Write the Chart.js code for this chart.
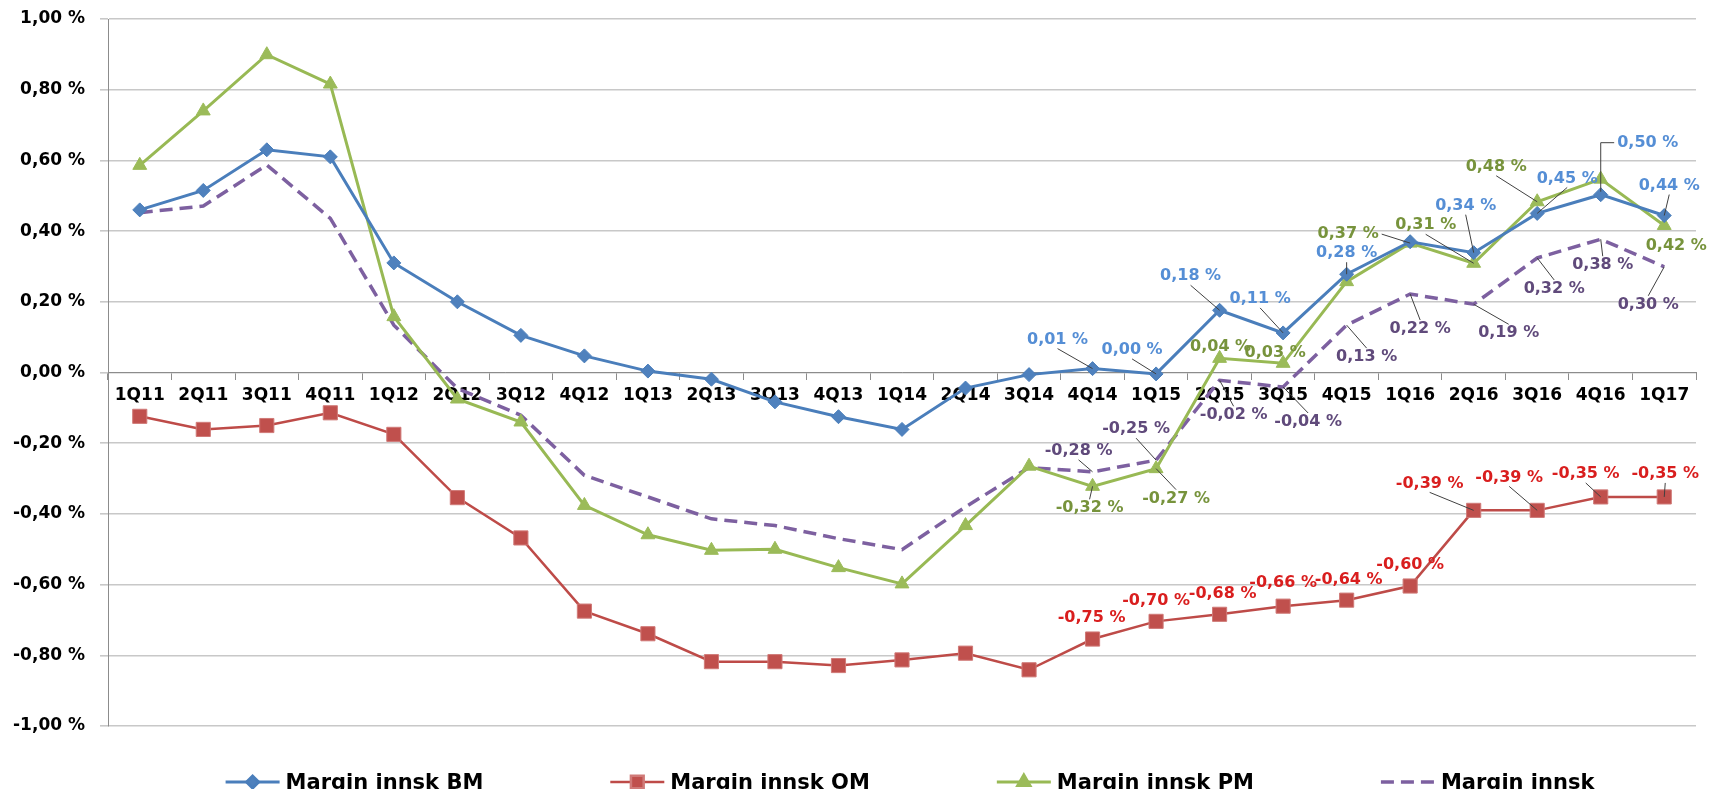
<!DOCTYPE html>
<html>
  <head>
    <meta charset="UTF-8">
    <style>
      html, body { margin: 0; padding: 0; background: #fff; }
      #wrap { width: 1709px; height: 789px; position: relative; }
    </style>
  </head>
  <body>
    <div id="wrap"><canvas id="margins"></canvas></div>

    <script src="https://cdn.jsdelivr.net/npm/chart.js@4.4.0/dist/chart.umd.min.js"></script>
    <script type="text/javascript">

      const quarters = ['1Q11','2Q11','3Q11','4Q11','1Q12','2Q12','3Q12','4Q12','1Q13','2Q13','3Q13','4Q13',
                        '1Q14','2Q14','3Q14','4Q14','1Q15','2Q15','3Q15','4Q15','1Q16','2Q16','3Q16','4Q16','1Q17'];

      const bmValues    = [0.46, 0.515, 0.63, 0.61, 0.31, 0.20, 0.105, 0.047, 0.004, -0.019, -0.083, -0.125,
                           -0.161, -0.044, -0.006, 0.011, -0.004, 0.176, 0.112, 0.278, 0.37, 0.339, 0.45, 0.503, 0.444];
      const omValues    = [-0.124, -0.161, -0.15, -0.114, -0.175, -0.354, -0.468, -0.675, -0.739, -0.818, -0.818, -0.829,
                           -0.813, -0.794, -0.841, -0.754, -0.704, -0.684, -0.661, -0.644, -0.604, -0.39, -0.39, -0.352, -0.352];
      const pmValues    = [0.586, 0.74, 0.899, 0.816, 0.158, -0.075, -0.14, -0.376, -0.459, -0.503, -0.50, -0.552,
                           -0.598, -0.433, -0.265, -0.322, -0.272, 0.04, 0.026, 0.257, 0.366, 0.309, 0.483, 0.547, 0.416];
      const innskValues = [0.452, 0.471, 0.587, 0.436, 0.134, -0.045, -0.121, -0.291, -0.352, -0.414, -0.433, -0.47,
                           -0.501, -0.38, -0.269, -0.281, -0.248, -0.022, -0.041, 0.134, 0.222, 0.193, 0.324, 0.377, 0.299];

      const yTicks = [-1, -0.8, -0.6, -0.4, -0.2, 0, 0.2, 0.4, 0.6, 0.8, 1];

      // which points get a value label: [index, dx, dy, leader]
      const bmLabelPos = [[15,-35,-29,1],[16,-24,-24,1],[17,-29,-34,1],[18,-23,-34,1],[19,0,-21,1],
                          [21,-8,-47,1],[22,30,-35,1],[23,47,-52,'elbow'],[24,5,-30,1]];
      const pmLabelPos = [[15,-3,22,1],[16,20,30,1],[17,1,-12,0],[18,-8,-10,0],[20,-62,-9,1],
                          [21,-48,-38,1],[22,-41,-35,1],[24,12,20,0]];
      const innskLabelPos = [[15,-14,-21,1],[16,-20,-31,1],[17,14,35,1],[18,25,35,1],[19,20,32,1],
                             [20,10,35,1],[21,35,29,1],[22,17,31,1],[23,2,26,1],[24,-16,38,1]];
      const omLabelPos = [[15,-1,-21,0],[16,0,-21,0],[17,3,-20,0],[18,0,-23,0],[19,2,-20,0],
                          [20,0,-21,0],[21,-44,-27,1],[22,-28,-33,1],[23,-15,-23,1],[24,1,-23,1]];

      const FONT = "'DejaVu Sans', 'Liberation Sans', sans-serif";

      function pct(v) {
        let r = Math.round(v * 100) / 100;
        if (Math.abs(r) < 1e-9) r = 0;
        return r.toFixed(2).replace('.', ',') + ' %';
      }

      const valueLabels = {
        id: 'valueLabels',
        afterDatasetsDraw(chart) {
          const ctx = chart.ctx;
          const sets = [
            {ds: 0, color: '#558ED5', pos: bmLabelPos},
            {ds: 1, color: '#D91E1E', pos: omLabelPos},
            {ds: 2, color: '#77933C', pos: pmLabelPos},
            {ds: 3, color: '#604A7B', pos: innskLabelPos}
          ];
          ctx.save();
          ctx.font = 'bold 16px ' + FONT;
          ctx.textAlign = 'center';
          ctx.textBaseline = 'middle';
          sets.forEach(set => {
            const meta = chart.getDatasetMeta(set.ds);
            const values = chart.data.datasets[set.ds].data;
            set.pos.forEach(p => {
              const el = meta.data[p[0]];
              const px = el.x, py = el.y;
              const cx = px + p[1], cy = py + p[2];
              const text = pct(values[p[0]]);
              const w = ctx.measureText(text).width;
              const l = cx - w / 2, r = cx + w / 2, t = cy - 7, b = cy + 7;
              if (p[3]) {
                ctx.strokeStyle = '#404040';
                ctx.lineWidth = 1;
                ctx.beginPath();
                if (p[3] === 'elbow') {
                  ctx.moveTo(l - 3, cy);
                  ctx.lineTo(px, cy);
                  ctx.lineTo(px, py - 3);
                } else {
                  const hgap = px > r ? px - r : (px < l ? l - px : 0);
                  const vgap = py > b ? py - b : (py < t ? t - py : 0);
                  let ax, ay;
                  if (hgap > vgap) {
                    ax = px > r ? r + 3 : l - 3; ay = cy;
                  } else {
                    ax = cx; ay = py > b ? b + 2 : t - 2;
                  }
                  ctx.moveTo(ax, ay);
                  ctx.lineTo(px, py);
                }
                ctx.stroke();
              }
              ctx.fillStyle = set.color;
              ctx.fillText(text, cx, cy);
            });
          });
          ctx.restore();
        }
      };

      const bottomLegend = {
        id: 'bottomLegend',
        afterDraw(chart) {
          const ctx = chart.ctx;
          const area = chart.chartArea;
          ctx.save();
          ctx.font = 'bold 21px ' + FONT;
          const lineLen = 54, gap = 127;
          const items = chart.data.datasets.map(ds => ({ds: ds, w: lineLen + 6 + ctx.measureText(ds.label).width}));
          const total = items.reduce((s, it) => s + it.w, 0) + gap * (items.length - 1);
          let x = (area.left + area.right) / 2 + 8 - total / 2;
          const y = 782;
          items.forEach(it => {
            const ds = it.ds;
            ctx.strokeStyle = ds.borderColor;
            ctx.lineWidth = ds.borderWidth;
            ctx.setLineDash(ds.borderDash || []);
            ctx.beginPath();
            ctx.moveTo(x, y);
            ctx.lineTo(x + lineLen, y);
            ctx.stroke();
            ctx.setLineDash([]);
            if (ds.pointRadius > 0) {
              ctx.fillStyle = ds.pointBackgroundColor;
              ctx.strokeStyle = ds.pointBorderColor;
              Chart.helpers.drawPoint(ctx, {pointStyle: ds.pointStyle, rotation: 0, radius: ds.pointRadius - 1, borderWidth: 1}, x + lineLen / 2, y);
            }
            ctx.fillStyle = '#000';
            ctx.textAlign = 'left';
            ctx.textBaseline = 'alphabetic';
            ctx.fillText(ds.label, x + lineLen + 6, 789);
            x += it.w + gap;
          });
          ctx.restore();
        }
      };

      Chart.defaults.font.family = FONT;

      new Chart(document.getElementById('margins'), {
        type: 'line',
        data: {
          labels: quarters,
          datasets: [
            {
              label: 'Margin innsk BM',
              data: bmValues,
              borderColor: '#4A7EBB',
              borderWidth: 3,
              pointStyle: 'rectRot',
              pointRadius: 7,
              pointBackgroundColor: '#4F81BD',
              pointBorderColor: '#4A7EBB',
              pointBorderWidth: 1
            },
            {
              label: 'Margin innsk OM',
              data: omValues,
              borderColor: '#BE4B48',
              borderWidth: 2.5,
              pointStyle: 'rect',
              pointRadius: 10,
              pointBackgroundColor: '#C0504D',
              pointBorderColor: '#D07A78',
              pointBorderWidth: 1
            },
            {
              label: 'Margin innsk PM',
              data: pmValues,
              borderColor: '#98B954',
              borderWidth: 3,
              pointStyle: 'triangle',
              pointRadius: 8,
              pointBackgroundColor: '#9BBB59',
              pointBorderColor: '#9BBB59',
              pointBorderWidth: 1
            },
            {
              label: 'Margin innsk',
              data: innskValues,
              borderColor: '#7D60A0',
              borderWidth: 3.5,
              borderDash: [13, 7],
              pointRadius: 0
            }
          ]
        },
        options: {
          responsive: true,
          maintainAspectRatio: false,
          animation: false,
          layout: { padding: { left: 0, right: 13, top: 19, bottom: 63 } },
          plugins: {
            legend: { display: false },
            tooltip: { enabled: false }
          },
          elements: { line: { tension: 0 } },
          scales: {
            x: {
              position: { y: 0 },
              offset: true,
              grid: {
                offset: true,
                drawOnChartArea: false,
                drawTicks: true,
                tickLength: 7,
                color: '#8C8C8C'
              },
              border: { display: true, color: '#8C8C8C', width: 1 },
              ticks: {
                autoSkip: false,
                maxRotation: 0,
                padding: 6,
                color: '#000',
                font: { size: 17, weight: 'bold' }
              }
            },
            y: {
              min: -1,
              max: 1,
              afterFit(scale) {
                scale.width = 108;
                scale.paddingTop = 0;
                scale.paddingBottom = 0;
              },
              afterBuildTicks(scale) { scale.ticks = yTicks.map(v => ({value: v})); },
              grid: {
                color: '#C8C8C8',
                lineWidth: 1.6,
                tickLength: 8
              },
              border: { display: true, color: '#8C8C8C', width: 1 },
              ticks: {
                padding: 15,
                color: '#000',
                font: { size: 17, weight: 'bold' },
                callback: v => pct(v)
              }
            }
          }
        },
        plugins: [valueLabels, bottomLegend]
      });

    </script>
  </body>
</html>
